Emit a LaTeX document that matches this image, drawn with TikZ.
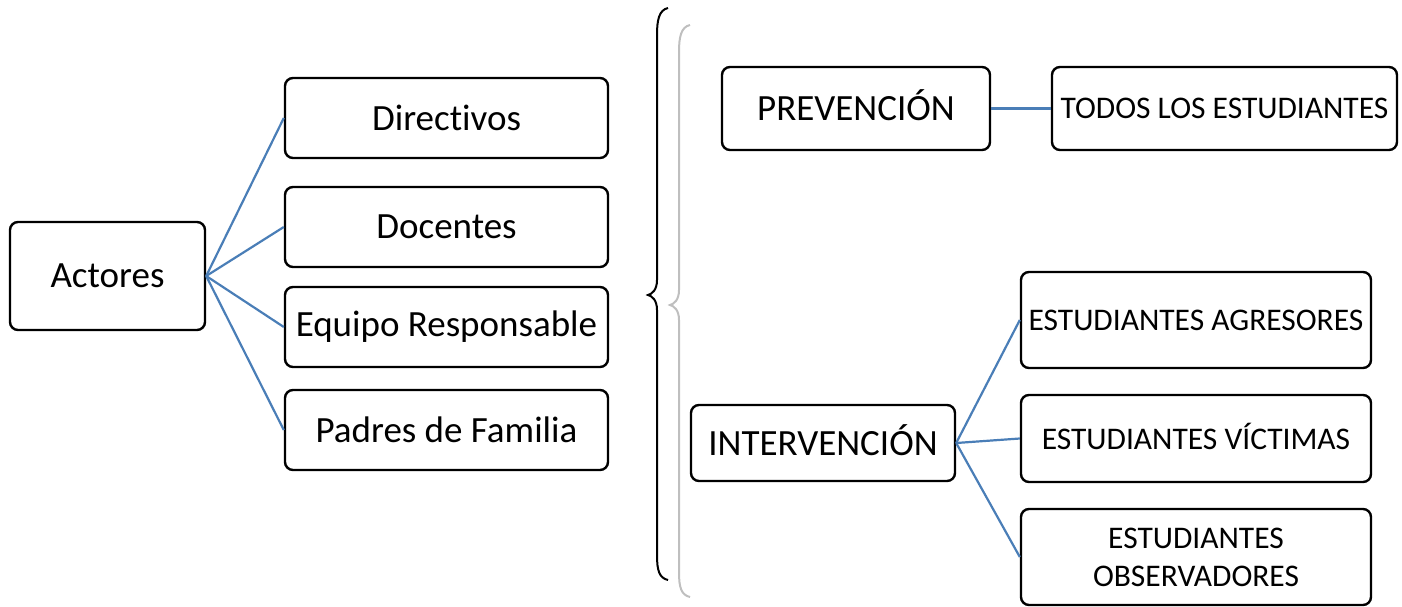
\documentclass[tikz,border=0pt]{standalone}
\usepackage{fontspec}
\setmainfont{Carlito}[Ligatures=NoCommon]
\tikzset{
  caja/.style={draw, line width=2.4pt, rounded corners=8pt, inner sep=0pt, align=center},
  grande/.style={font=\fontsize{37}{42}\selectfont},
  chica/.style={font=\fontsize{31.5}{38}\selectfont},
  enlace/.style={draw=linkblue, line width=2.2pt},
}
\definecolor{linkblue}{RGB}{74,126,183}
\begin{document}
\begin{tikzpicture}[x=1pt,y=-1pt]
\useasboundingbox (0,0) rectangle (1402,607);
% actores
\node[caja, grande, minimum width=195pt, minimum height=108pt] (actores) at (107.5,276) {Actores};
\node[caja, grande, minimum width=323pt, minimum height=80pt] (directivos) at (446.5,118) {Directivos};
\node[caja, grande, minimum width=323pt, minimum height=80pt] (docentes) at (446.5,227) {Docentes};
\node[caja, grande, minimum width=323pt, minimum height=80pt] (equipo) at (446.5,327) {Equipo Responsable};
\node[caja, grande, minimum width=323pt, minimum height=80pt] (padres) at (446.5,430) {Padres de Familia};
\foreach \n in {directivos,docentes,equipo,padres}
  \draw[enlace] (actores.east) -- (\n.west);
% llaves
\draw[line width=2pt] (668,8) .. controls (659,10) and (657,20) .. (657,35) -- (657,280)
  .. controls (657,290) and (652,294) .. (648,295) .. controls (652,296) and (657,300) .. (657,310)
  -- (657,555) .. controls (657,570) and (659,578) .. (668,580);
\draw[line width=2pt, black!25] (690,25) .. controls (681,27) and (679,37) .. (679,52) -- (679,290)
  .. controls (679,300) and (674,304) .. (670,305) .. controls (674,306) and (679,310) .. (679,320)
  -- (679,572) .. controls (679,587) and (681,595) .. (690,597);
% prevencion
\node[caja, grande, text height=24pt, text depth=0pt, minimum width=268pt, minimum height=83pt] (prevencion) at (856,108.5) {PREVENCIÓN};
\node[caja, chica, minimum width=345pt, minimum height=83pt] (todos) at (1224.5,108.5) {TODOS LOS ESTUDIANTES};
\draw[enlace] (prevencion.east) -- (todos.west);
% intervencion
\node[caja, grande, text height=24pt, text depth=0pt, minimum width=264pt, minimum height=76pt] (intervencion) at (823,443) {INTERVENCIÓN};
\node[caja, chica, minimum width=350pt, minimum height=96pt] (agresores) at (1196,320) {ESTUDIANTES AGRESORES};
\node[caja, chica, text height=21pt, text depth=0pt, minimum width=350pt, minimum height=87pt] (victimas) at (1196,438.5) {ESTUDIANTES VÍCTIMAS};
\node[caja, chica, minimum width=350pt, minimum height=96pt] (observadores) at (1196,557) {ESTUDIANTES\\OBSERVADORES};
\foreach \n in {agresores,victimas,observadores}
  \draw[enlace] (intervencion.east) -- (\n.west);
\end{tikzpicture}
\end{document}
